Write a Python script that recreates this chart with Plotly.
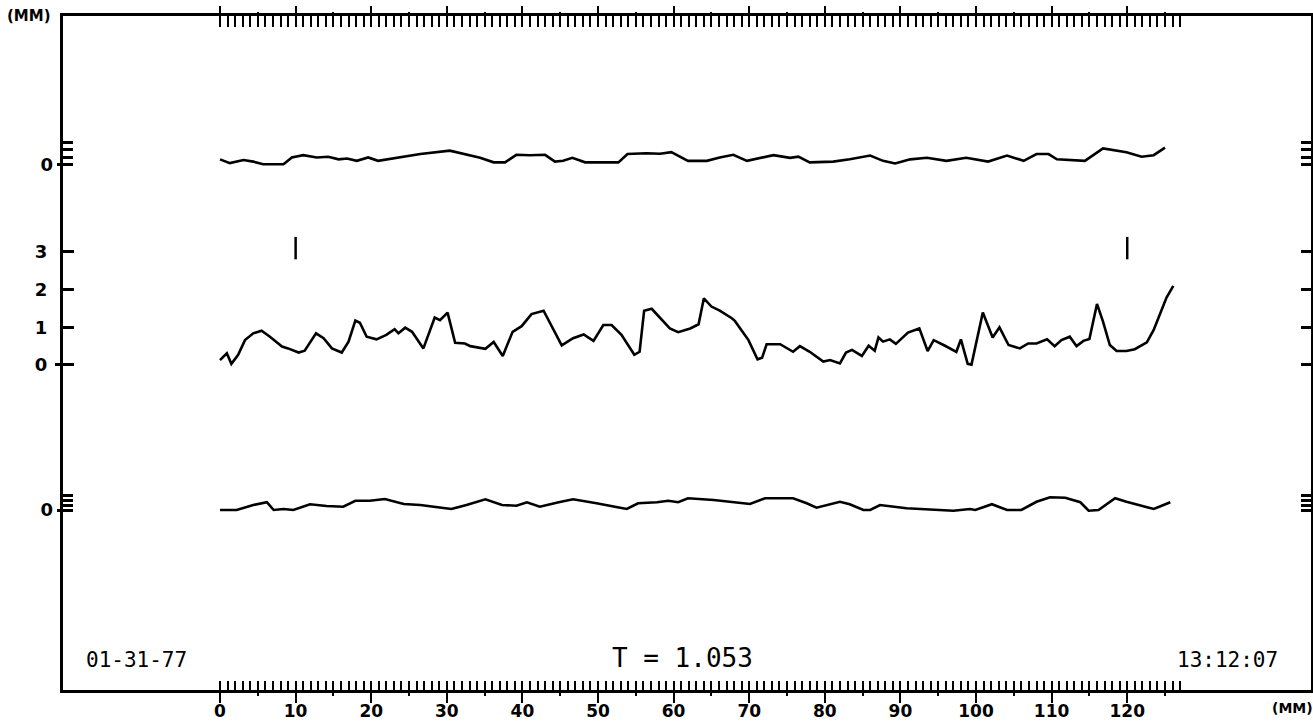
import plotly.graph_objects as go

# ---------------- data (mm) ----------------
top_x = [0, 1.3, 3.1, 4.4, 5.7, 8.4, 9.5, 11.0, 12.8, 14.3, 15.7, 16.8, 18.1, 19.6, 20.9,
         23.8, 26.5, 30.4, 32.6, 34.4, 36.2, 37.7, 39.2, 41.0, 43.0, 44.3, 45.4, 46.6, 48.3,
         52.7, 53.9, 56.4, 58.2, 59.7, 61.9, 64.4, 66.1, 67.9, 69.7, 71.9, 73.2, 75.4, 76.5,
         78.0, 81.1, 83.3, 86.0, 87.7, 89.3, 91.3, 93.5, 96.1, 98.7, 101.6, 104.1, 106.3,
         108.0, 109.6, 110.7, 114.4, 116.8, 119.9, 121.9, 123.5, 125.0]
top_y = [0.15, 0.05, 0.13, 0.09, 0.02, 0.02, 0.20, 0.26, 0.20, 0.22, 0.15, 0.17, 0.11, 0.20, 0.11,
         0.20, 0.29, 0.38, 0.27, 0.19, 0.07, 0.07, 0.27, 0.26, 0.27, 0.09, 0.11, 0.19, 0.07,
         0.07, 0.29, 0.31, 0.30, 0.34, 0.11, 0.11, 0.20, 0.27, 0.11, 0.20, 0.26, 0.19, 0.22,
         0.07, 0.09, 0.15, 0.25, 0.11, 0.04, 0.15, 0.19, 0.11, 0.19, 0.09, 0.25, 0.11,
         0.29, 0.29, 0.15, 0.11, 0.44, 0.34, 0.22, 0.26, 0.46]

mid_x = [0, 0.9, 1.5, 2.4, 3.3, 4.4, 5.5, 6.6, 8.2, 9.0, 10.4, 11.2, 12.7, 13.7, 14.8, 16.1,
         17.0, 17.9, 18.5, 19.4, 20.7, 22.0, 23.1, 23.6, 24.5, 25.4, 26.9, 28.4, 29.1, 30.1,
         31.1, 32.4, 33.1, 35.1, 36.2, 37.4, 38.7, 39.9, 41.2, 42.8, 45.2, 46.7, 48.1, 49.4,
         50.7, 51.8, 53.1, 54.8, 55.5, 56.1, 57.1, 59.5, 60.6, 62.2, 63.3, 64.0, 65.0, 66.1,
         67.7, 68.1, 69.9, 71.1, 71.7, 72.3, 74.1, 75.8, 76.7, 78.0, 79.8, 80.7, 82.0, 82.8,
         83.6, 84.9, 85.8, 86.6, 87.1, 87.7, 88.6, 89.4, 91.0, 92.5, 93.6, 94.4, 95.9, 97.4,
         98.0, 98.9, 99.4, 100.9, 102.2, 103.1, 104.3, 105.8, 106.9, 108.0, 109.4, 110.4,
         111.3, 112.4, 113.3, 114.2, 115.0, 116.0, 116.8, 117.7, 118.6, 119.9, 121.0, 122.6,
         123.5, 124.6, 125.2, 126.1]
mid_y = [0.13, 0.31, 0.03, 0.27, 0.66, 0.84, 0.91, 0.75, 0.49, 0.44, 0.33, 0.38, 0.84, 0.71,
         0.44, 0.33, 0.62, 1.18, 1.12, 0.75, 0.68, 0.80, 0.95, 0.84, 0.99, 0.88, 0.44, 1.26,
         1.19, 1.39, 0.59, 0.57, 0.50, 0.43, 0.61, 0.24, 0.88, 1.03, 1.35, 1.44, 0.52, 0.71,
         0.81, 0.64, 1.06, 1.06, 0.80, 0.27, 0.35, 1.44, 1.49, 0.97, 0.87, 0.97, 1.08, 1.77,
         1.55, 1.44, 1.24, 1.17, 0.66, 0.15, 0.19, 0.55, 0.55, 0.35, 0.50, 0.35, 0.09, 0.13,
         0.04, 0.33, 0.40, 0.24, 0.51, 0.38, 0.73, 0.62, 0.68, 0.56, 0.86, 0.97, 0.37, 0.66,
         0.51, 0.35, 0.68, 0.03, 0.01, 1.39, 0.73, 1.00, 0.53, 0.44, 0.57, 0.57, 0.68, 0.50,
         0.66, 0.75, 0.50, 0.64, 0.69, 1.62, 1.15, 0.53, 0.37, 0.37, 0.42, 0.60, 0.93, 1.48,
         1.79, 2.10]

bot_x = [0, 2.2, 4.4, 6.2, 7.1, 8.4, 9.7, 11.9, 14.1, 16.3, 17.9, 19.8, 21.8, 24.3, 26.5,
         30.6, 32.6, 35.1, 37.3, 39.2, 40.6, 42.3, 44.8, 46.7, 49.8, 53.8, 55.3, 57.8, 59.3,
         60.6, 61.9, 65.3, 70.1, 72.1, 75.8, 77.6, 78.9, 82.0, 83.3, 85.1, 86.0, 87.3, 90.8,
         94.8, 97.0, 99.2, 99.9, 102.1, 104.1, 106.0, 108.0, 109.8, 111.8, 113.8, 114.9,
         116.2, 118.4, 119.9, 121.9, 123.5, 125.7]
bot_y = [0, 0, 0.2, 0.31, 0, 0.04, 0, 0.23, 0.16, 0.13, 0.37, 0.37, 0.44, 0.24, 0.2,
         0.04, 0.2, 0.43, 0.2, 0.17, 0.31, 0.13, 0.31, 0.43, 0.27, 0.04, 0.27, 0.31, 0.37,
         0.31, 0.47, 0.4, 0.24, 0.47, 0.47, 0.27, 0.09, 0.33, 0.23, 0, 0, 0.2, 0.07,
         0, -0.03, 0.04, 0, 0.23, 0, 0, 0.33, 0.51, 0.49, 0.31, -0.03,
         0, 0.47, 0.33, 0.16, 0.04, 0.31]

mark_x = [10, 120]
mark_y = [3.1, 3.1]

x_major = list(range(0, 121, 10))
x_labels = [str(v) for v in x_major]
x_mid = list(range(5, 126, 10))
x_minor = list(range(0, 128))
mid_ticks = [0, 1, 2, 3]
mid_labels = ["0", "1", "2", "3"]
small_ticks = [0, 0.2, 0.4, 0.6]
small_labels = ["0", "", "", ""]

# ---------------- layout constants ----------------
X_RANGE = [-20.77, 144.31]
MID_RANGE = [-8.621, 9.257]
TOP_RANGE = [-13.926, 3.952]
BOT_RANGE = [-7.2, 19.76]

INK = "black"
LBL = dict(family="DejaVu Sans", size=18, color=INK, weight="bold")

fig = go.Figure()
line = dict(color=INK, width=2.6)
fig.add_trace(go.Scatter(x=top_x, y=top_y, mode="lines", line=line, xaxis="x", yaxis="y2"))
fig.add_trace(go.Scatter(x=mid_x, y=mid_y, mode="lines", line=line, xaxis="x", yaxis="y"))
fig.add_trace(go.Scatter(x=bot_x, y=bot_y, mode="lines", line=line, xaxis="x", yaxis="y3"))
fig.add_trace(go.Scatter(x=mark_x, y=mark_y, mode="markers", xaxis="x", yaxis="y",
                         marker=dict(symbol="line-ns", size=16, color=INK,
                                     line=dict(color=INK, width=2.5))))
# empty traces so that the tick-only overlay axes are rendered
for xa, ya in [("x2", "y4"), ("x3", "y5"), ("x4", "y6")]:
    fig.add_trace(go.Scatter(x=[], y=[], mode="lines", xaxis=xa, yaxis=ya,
                             hoverinfo="skip"))

base = dict(showgrid=False, zeroline=False, tickcolor=INK, tickmode="array",
            fixedrange=True, automargin=False)

fig.update_layout(
    width=1313, height=721, autosize=False,
    margin=dict(l=63, r=2, t=16, b=31, pad=0),
    paper_bgcolor="white", plot_bgcolor="white",
    showlegend=False,
    xaxis=dict(base, range=X_RANGE, showline=True, mirror=True, linecolor=INK, linewidth=3,
               ticks="outside", tickvals=x_major, ticktext=x_labels, ticklen=10, tickwidth=2,
               tickfont=dict(LBL, size=17), ticklabelstandoff=-6,
               minor=dict(ticks="inside", tickmode="array", tickvals=x_minor,
                          ticklen=9, tickwidth=2, tickcolor=INK)),
    xaxis2=dict(base, range=X_RANGE, overlaying="x", side="top", anchor="y",
                showline=False, showticklabels=False,
                ticks="outside", tickvals=x_major, ticklen=9, tickwidth=2,
                minor=dict(ticks="inside", tickmode="array", tickvals=x_minor,
                           ticklen=11, tickwidth=2, tickcolor=INK)),
    xaxis3=dict(base, range=X_RANGE, overlaying="x", side="bottom", anchor="y",
                showline=False, showticklabels=False,
                ticks="outside", tickvals=x_mid, ticklen=5, tickwidth=2),
    xaxis4=dict(base, range=X_RANGE, overlaying="x", side="top", anchor="y",
                showline=False, showticklabels=False,
                ticks="outside", tickvals=x_mid, ticklen=3, tickwidth=2),
    yaxis=dict(base, range=MID_RANGE, showline=True, mirror=True, linecolor=INK, linewidth=3,
               ticks="inside", tickvals=mid_ticks, ticktext=mid_labels, ticklen=11,
               tickwidth=2.5, tickfont=LBL, ticklabelstandoff=9,
               minor=dict(ticks="outside", tickmode="array", tickvals=[0],
                          ticklen=5, tickwidth=2.5, tickcolor=INK)),
    yaxis2=dict(base, range=TOP_RANGE, overlaying="y", side="left", anchor="x",
                showline=False, ticks="inside", tickvals=small_ticks, ticktext=small_labels,
                ticklen=10, tickwidth=2.5, tickfont=LBL, ticklabelstandoff=9,
                minor=dict(ticks="outside", tickmode="array", tickvals=[0],
                           ticklen=5, tickwidth=2.5, tickcolor=INK)),
    yaxis3=dict(base, range=BOT_RANGE, overlaying="y", side="left", anchor="x",
                showline=False, ticks="inside", tickvals=small_ticks, ticktext=small_labels,
                ticklen=10, tickwidth=2.5, tickfont=LBL, ticklabelstandoff=9,
                minor=dict(ticks="outside", tickmode="array", tickvals=[0],
                           ticklen=5, tickwidth=2.5, tickcolor=INK)),
    yaxis4=dict(base, range=MID_RANGE, overlaying="y", side="right", anchor="x2",
                showline=False, showticklabels=False, ticks="inside", tickvals=mid_ticks,
                ticklen=10, tickwidth=2.5),
    yaxis5=dict(base, range=TOP_RANGE, overlaying="y", side="right", anchor="x3",
                showline=False, showticklabels=False, ticks="inside", tickvals=small_ticks,
                ticklen=10, tickwidth=2.5),
    yaxis6=dict(base, range=BOT_RANGE, overlaying="y", side="right", anchor="x4",
                showline=False, showticklabels=False, ticks="inside", tickvals=small_ticks,
                ticklen=10, tickwidth=2.5),
)

MONO = "DejaVu Sans Mono"
ann = [
    dict(text="(MM)", x=-0.027, y=1.0, xanchor="center", yanchor="middle",
         font=dict(family="DejaVu Sans", size=15, color=INK, weight="bold")),
    dict(text="(MM)", x=0.9675, y=-0.027, xanchor="left", yanchor="middle",
         font=dict(family="DejaVu Sans", size=14, color=INK, weight="bold")),
    dict(text="01-31-77", x=0.0585, y=0.0445, xanchor="center", yanchor="middle",
         font=dict(family=MONO, size=21, color=INK)),
    dict(text="T = 1.053", x=0.4960, y=0.0475, xanchor="center", yanchor="middle",
         font=dict(family=MONO, size=26, color=INK)),
    dict(text="13:12:07", x=0.9327, y=0.0445, xanchor="center", yanchor="middle",
         font=dict(family=MONO, size=21, color=INK)),
]
for a in ann:
    a.update(xref="paper", yref="paper", showarrow=False)
fig.update_layout(annotations=ann)

fig.write_html("out.html")
